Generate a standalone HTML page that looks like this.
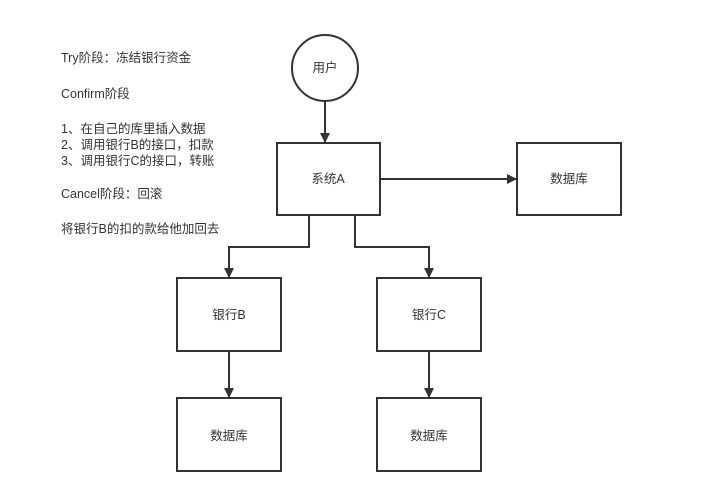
<!DOCTYPE html>
<html><head><meta charset="utf-8"><style>
html,body{margin:0;padding:0;background:#fff;}
body{width:701px;height:495px;overflow:hidden;}
text{font-family:"Liberation Sans","Noto Sans CJK SC",sans-serif;fill:#333;}
</style></head><body>
<svg width="701" height="495" xmlns="http://www.w3.org/2000/svg">
<defs><marker id="a" markerWidth="10" markerHeight="10" refX="9" refY="5" orient="auto" markerUnits="userSpaceOnUse"><path d="M0,0 L10,5 L0,10 Z" fill="#333"/></marker></defs>
<g font-size="12.5">
<text x="61" y="62">Try阶段：冻结银行资金</text>
<text x="61" y="98">Confirm阶段</text>
<text x="61" y="133">1、在自己的库里插入数据</text>
<text x="61" y="149">2、调用银行B的接口，扣款</text>
<text x="61" y="165">3、调用银行C的接口，转账</text>
<text x="61" y="198">Cancel阶段：回滚</text>
<text x="61" y="233">将银行B的扣的款给他加回去</text>
</g>
<g fill="#fff" stroke="#333" stroke-width="2">
<circle cx="325" cy="68" r="33"/>
<rect x="277" y="143" width="103" height="72"/>
<rect x="517" y="143" width="104" height="72"/>
<rect x="177" y="278" width="104" height="73"/>
<rect x="377" y="278" width="104" height="73"/>
<rect x="177" y="398" width="104" height="73"/>
<rect x="377" y="398" width="104" height="73"/>
</g>
<g fill="none" stroke="#333" stroke-width="2" marker-end="url(#a)">
<path d="M325,101 V142"/>
<path d="M380,179 H516"/>
<path d="M309,215 V247 H229 V277"/>
<path d="M355,215 V247 H429 V277"/>
<path d="M229,351 V397"/>
<path d="M429,351 V397"/>
</g>
<g font-size="12.5" text-anchor="middle">
<text x="325" y="72">用户</text>
<text x="328" y="183">系统A</text>
<text x="569" y="183">数据库</text>
<text x="229" y="319">银行B</text>
<text x="429" y="319">银行C</text>
<text x="229" y="440">数据库</text>
<text x="429" y="440">数据库</text>
</g>
</svg>
</body></html>
